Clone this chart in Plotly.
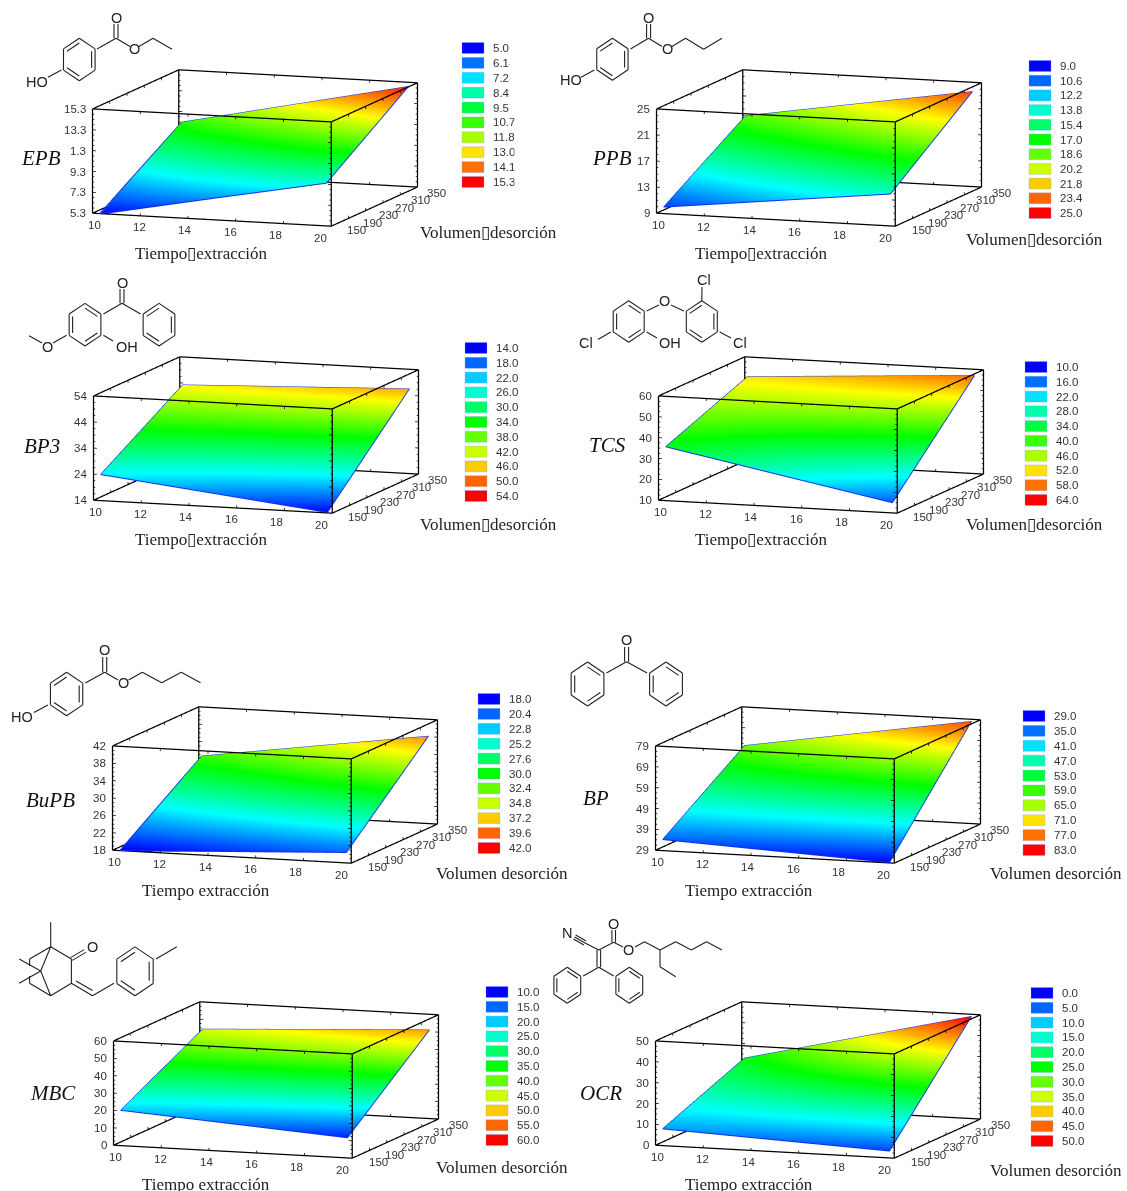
import math
import plotly.graph_objects as go

W, H = 1127, 1191
names = ["EPB", "PPB", "BP3", "TCS", "BuPB", "BP", "MBC", "OCR"]

# ---- data -----------------------------------------------------------------
x_edges = [10.3, 19.8]
y_edges = [150, 340]
x_ticks = [10, 12, 14, 16, 18, 20]
y_ticks = [150, 190, 230, 270, 310, 350]

z_EPB = [[5.2, 9.4], [10.5, 15.1]]
z_PPB = [[10.0, 13.9], [18.3, 23.9]]
z_BP3 = [[24.0, 14.2], [44.1, 47.3]]
z_TCS = [[35.8, 14.9], [51.6, 58.0]]
z_BuPB = [[17.8, 20.4], [31.2, 38.6]]
z_BP = [[34.3, 29.2], [61.5, 79.0]]
z_MBC = [[20.3, 11.6], [45.6, 52.2]]
z_OCR = [[8.0, 3.3], [24.1, 50.0]]
surfaces = [z_EPB, z_PPB, z_BP3, z_TCS, z_BuPB, z_BP, z_MBC, z_OCR]

color_EPB = [[5.0, 8.0], [10.5, 15.0]]
colors = [color_EPB, z_PPB, z_BP3, z_TCS, z_BuPB, z_BP, z_MBC, z_OCR]

ztick_EPB = ["5.3", "7.3", "9.3", "1.3", "13.3", "15.3"]
ztick_PPB = ["9", "13", "17", "21", "25"]
ztick_BP3 = ["14", "24", "34", "44", "54"]
ztick_TCS = ["10", "20", "30", "40", "50", "60"]
ztick_BuPB = ["18", "22", "26", "30", "34", "38", "42"]
ztick_BP = ["29", "39", "49", "59", "69", "79"]
ztick_MBC = ["0", "10", "20", "30", "40", "50", "60"]
ztick_OCR = ["0", "10", "20", "30", "40", "50"]
zticktext = [ztick_EPB, ztick_PPB, ztick_BP3, ztick_TCS, ztick_BuPB, ztick_BP, ztick_MBC, ztick_OCR]
zvals_EPB = [5.3, 7.3, 9.3, 11.3, 13.3, 15.3]
ztickvals = [zvals_EPB, [9, 13, 17, 21, 25], [14, 24, 34, 44, 54], [10, 20, 30, 40, 50, 60],
             [18, 22, 26, 30, 34, 38, 42], [29, 39, 49, 59, 69, 79],
             [0, 10, 20, 30, 40, 50, 60], [0, 10, 20, 30, 40, 50]]

leg_EPB = ["5.0", "6.14", "7.28", "8.42", "9.57", "10.71", "11.85", "13.0", "14.14", "15.3"]
leg_PPB = ["9.0", "10.6", "12.2", "13.8", "15.4", "17.0", "18.6", "20.2", "21.8", "23.4", "25.0"]
leg_BP3 = ["14.0", "18.0", "22.0", "26.0", "30.0", "34.0", "38.0", "42.0", "46.0", "50.0", "54.0"]
leg_TCS = ["10.0", "16.0", "22.0", "28.0", "34.0", "40.0", "46.0", "52.0", "58.0", "64.0"]
leg_BuPB = ["18.0", "20.4", "22.8", "25.2", "27.6", "30.0", "32.4", "34.8", "37.2", "39.6", "42.0"]
leg_BP = ["29.0", "35.0", "41.0", "47.0", "53.0", "59.0", "65.0", "71.0", "77.0", "83.0"]
leg_MBC = ["10.0", "15.0", "20.0", "25.0", "30.0", "35.0", "40.0", "45.0", "50.0", "55.0", "60.0"]
leg_OCR = ["0.0", "5.0", "10.0", "15.0", "20.0", "25.0", "30.0", "35.0", "40.0", "45.0", "50.0"]
legends = [leg_EPB, leg_PPB, leg_BP3, leg_TCS, leg_BuPB, leg_BP, leg_MBC, leg_OCR]

# ---- layout (pixels) -------------------------------------------------------
# bottom-left corner of the box, bottom-front corner, bottom-right-back corner
box_BL = [(92, 212), (656, 212), (93, 499), (658, 499), (112, 849), (654, 849), (113, 1144), (655, 1144)]
box_FB = [(330, 225), (896, 225), (331, 513), (896, 513), (351, 862), (893, 862), (352, 1157), (894, 1157)]
box_RB = [(417, 188), (982, 188), (418, 475), (983, 475), (438, 825), (981, 825), (439, 1120), (981, 1120)]
BOX_H = 104

sw_left = [462, 1029, 465, 1025, 478, 1023, 486, 1031]
sw_top = [48, 66, 348, 367, 699, 716, 992, 993]
sw_bottom = [182, 213, 496, 500, 848, 850, 1140, 1141]
SW_W, SW_H = 22, 11

name_pos = [(41, 158), (612, 158), (42, 446), (607, 445), (50, 800), (596, 798), (53, 1093), (601, 1093)]
xt_pos = [(201, 254), (761, 254), (201, 539), (761, 539), (206, 890), (749, 890), (206, 1184), (749, 1184)]
yt_pos = [(488, 232), (1034, 240), (488, 524), (1034, 524), (502, 873), (1056, 873), (502, 1167), (1056, 1170)]
xt_text = ["Tiempo\u25afextracción"] * 4 + ["Tiempo extracción"] * 4
yt_text = ["Volumen\u25afdesorción"] * 4 + ["Volumen desorción"] * 4

SCENE_W, SCENE_H = 440, 220
SCALE = 2.31
ASPECT = dict(x=1.0 * SCALE, y=1.044 * SCALE, z=0.418 * SCALE)
EYE_DIR = (0.323, -0.933, 0.157)
EYE_NORM = 4.0
RANGE_PAD = 0.003   # keeps the box edges just inside the scene's clip bounds
TICK_FONT = dict(size=11.5, color="#333", family="Liberation Sans")

rainbow = [[0, "rgb(0,0,255)"], [0.25, "rgb(0,255,255)"], [0.5, "rgb(0,255,0)"],
           [0.75, "rgb(255,255,0)"], [1, "rgb(255,0,0)"]]


def rainbow_at(c):
    stops = [(0, 0, 255), (0, 255, 255), (0, 255, 0), (255, 255, 0), (255, 0, 0)]
    p = min(c * 4, 3.9999)
    i = int(p)
    t = p - i
    a, b = stops[i], stops[i + 1]
    return "rgb(%d,%d,%d)" % tuple(round(a[k] + (b[k] - a[k]) * t) for k in range(3))


def padded(lo, hi):
    d = (hi - lo) * RANGE_PAD
    return [lo - d, hi + d]


# ---- molecule drawing helpers ----------------------------------------------
def hexv(cx, cy, r):
    return [(cx + 0.86 * r * math.sin(math.radians(60 * i)), cy - r * math.cos(math.radians(60 * i))) for i in range(6)]


def ring(cx, cy, r, inner):
    v = hexv(cx, cy, r)
    segs = [(v[i], v[(i + 1) % 6]) for i in range(6)]
    for i in inner:
        a, b = v[i], v[(i + 1) % 6]
        f = 0.78
        a2 = (cx + (a[0] - cx) * f, cy + (a[1] - cy) * f)
        b2 = (cx + (b[0] - cx) * f, cy + (b[1] - cy) * f)
        segs.append((a2, b2))
    return segs


def chain(*pts):
    return [(pts[i], pts[i + 1]) for i in range(len(pts) - 1)]


def dbl(a, b, off=2.0):
    dx, dy = b[0] - a[0], b[1] - a[1]
    n = math.hypot(dx, dy)
    ox, oy = -dy / n * off, dx / n * off
    return [((a[0] + ox, a[1] + oy), (b[0] + ox, b[1] + oy)), ((a[0] - ox, a[1] - oy), (b[0] - ox, b[1] - oy))]


SET_A = [5, 1, 3]
SET_B = [0, 2, 4]

mol_EPB = (ring(79.3, 59.5, 21.2, SET_A) + chain((97, 49), (116, 38.3), (130, 46.5))
           + dbl((116, 38.3), (116, 24)) + chain((139, 46.5), (153, 38.3), (172, 49.3))
           + chain((61.4, 70), (48, 77.3)))
atoms_EPB = [("O", 116, 18), ("O", 134.6, 49.5), ("HO", 37, 82)]

mol_PPB = (ring(612.4, 59.3, 21, SET_A) + chain((630.5, 49), (648.6, 38.3), (662, 46.5))
           + dbl((648.6, 38.3), (648.6, 24)) + chain((672, 46.5), (685.5, 38.3), (703.6, 49.3), (722, 38.3))
           + chain((594.4, 70), (581, 77.3)))
atoms_PPB = [("O", 648.6, 18), ("O", 667.4, 49.5), ("HO", 571, 80)]

mol_BP3 = (ring(85, 324.7, 21.3, SET_B) + ring(159, 324.7, 21.3, SET_A)
           + chain((103.4, 314), (122, 303.3), (140.6, 314)) + dbl((122, 303.3), (122, 289))
           + chain((103.4, 335.3), (113, 341)) + chain((66.6, 335.3), (53, 343)) + chain((42, 343), (29, 335.7)))
atoms_BP3 = [("O", 122, 282.5), ("OH", 127, 347), ("O", 47.5, 346.7)]

mol_TCS = (ring(628.7, 321.5, 20.8, SET_B) + ring(701.8, 321.5, 20.8, SET_A)
           + chain((646.6, 311), (659, 305)) + chain((671, 305), (683.9, 311))
           + chain((610.8, 332), (598, 339.5)) + chain((646.6, 332), (657, 338))
           + chain((701.8, 300.7), (702, 287)) + chain((719.7, 332), (731, 338)))
atoms_TCS = [("O", 664.9, 301), ("Cl", 586.4, 343.3), ("OH", 670, 343.3), ("Cl", 703.6, 280), ("Cl", 739.7, 343.3)]

mol_BuPB = (ring(66.6, 694, 21.7, SET_A) + chain((85.3, 683), (104.7, 672.3), (118, 680))
            + dbl((104.7, 672.3), (104.7, 657))
            + chain((128.5, 680), (142.4, 672.3), (161.7, 682.7), (181.3, 672.3), (200.5, 682.7))
            + chain((47.9, 705), (34, 712.5)))
atoms_BuPB = [("O", 104.7, 650), ("O", 123.2, 682.7), ("HO", 22, 716.7)]

mol_BP = (ring(587.5, 684, 22, SET_B) + ring(666, 684, 22, SET_B)
          + chain((606.4, 673), (626.6, 661.7), (647.1, 673)) + dbl((626.6, 661.7), (626.6, 647)))
atoms_BP = [("O", 626.6, 640)]

mol_MBC = (ring(135, 971.3, 24.4, SET_A) + chain((156, 959), (176.8, 946.7))
           + chain((50.7, 922.3), (50.7, 946.7), (71.4, 959), (71.4, 983.3), (50.7, 995.7), (40.7, 971), (50.7, 946.7))
           + chain((50.7, 946.7), (29.6, 959), (29.6, 966)) + chain((29.6, 976), (29.6, 983.3), (50.7, 995.7))
           + chain((19.2, 959), (40.7, 971), (19.2, 983.3))
           + dbl((71.4, 959), (85, 951), 1.6)
           + chain((71.4, 983.3), (92.5, 995.7), (114, 983.3)) + chain((76, 981), (92.5, 990.5)))
atoms_MBC = [("O", 92.5, 947.3)]

mol_OCR = (ring(567.3, 985.3, 18, SET_B) + ring(629.3, 985.3, 18, SET_B)
           + chain((598.8, 950), (613.7, 942.3), (623, 947)) + chain((635, 947), (644.5, 941.7), (660, 950), (675.7, 941.7),
                                                                   (691.3, 950), (706.5, 941.7), (722, 950))
           + chain((660, 950), (660, 966.7), (675.7, 976.7))
           + dbl((613.7, 942.3), (613.7, 930), 1.8) + dbl((598.8, 950), (598.8, 967.3), 1.8)
           + chain((598.8, 967.3), (583.2, 976)) + chain((598.8, 967.3), (613.7, 976))
           + chain((598.8, 950), (585, 943)) + dbl((585, 943), (574.5, 937), 2.2) + chain((585, 943), (574.5, 937)))
atoms_OCR = [("O", 613.7, 924.3), ("O", 628.9, 950), ("N", 567.3, 933.3)]

molecules = [mol_EPB, mol_PPB, mol_BP3, mol_TCS, mol_BuPB, mol_BP, mol_MBC, mol_OCR]
atom_labels = [atoms_EPB, atoms_PPB, atoms_BP3, atoms_TCS, atoms_BuPB, atoms_BP, atoms_MBC, atoms_OCR]


def px(x):
    return x / W


def py(y):
    return 1 - y / H


def note(x, y, text, size, color="#222", family="Liberation Sans", xanchor="center", **extra):
    d = dict(x=px(x), y=py(y), xref="paper", yref="paper", text=text, showarrow=False,
             xanchor=xanchor, yanchor="middle", align="left", borderpad=0,
             font=dict(size=size, color=color, family=family))
    d.update(extra)
    return d


def edge_trace(segs, width, sid):
    ex, ey, ez = [], [], []
    for a, b in segs:
        ex += [a[0], b[0], None]
        ey += [a[1], b[1], None]
        ez += [a[2], b[2], None]
    return go.Scatter3d(x=ex, y=ey, z=ez, mode="lines", line=dict(color="black", width=width),
                        hoverinfo="skip", scene=sid, showlegend=False)


fig = go.Figure()
annotations, shapes = [], []
layout_scenes = {}

for i, name in enumerate(names):
    sid = "scene" if i == 0 else "scene%d" % (i + 1)
    zt = ztickvals[i]
    zmin, zmax = zt[0], zt[-1]
    lab = legends[i]
    cmin, cmax = float(lab[0]), float(lab[-1])
    Z = surfaces[i]
    Zshown = [[max(v, zmin) for v in row] for row in Z]

    fig.add_trace(go.Surface(
        x=x_edges, y=y_edges, z=Z, surfacecolor=colors[i], cmin=cmin, cmax=cmax,
        colorscale=rainbow, showscale=False, hoverinfo="skip", scene=sid,
        lighting=dict(ambient=1, diffuse=0, specular=0, roughness=1, fresnel=0),
        contours=dict(x=dict(highlight=False), y=dict(highlight=False), z=dict(highlight=False)),
    ))
    # blue outline of the surface
    fig.add_trace(go.Scatter3d(
        x=[x_edges[0], x_edges[1], x_edges[1], x_edges[0], x_edges[0]],
        y=[y_edges[0], y_edges[0], y_edges[1], y_edges[1], y_edges[0]],
        z=[Zshown[0][0], Zshown[0][1], Zshown[1][1], Zshown[1][0], Zshown[0][0]],
        mode="lines", line=dict(color="#1030e8", width=2), hoverinfo="skip", scene=sid, showlegend=False))

    # box edges
    x0, x1, y0, y1 = x_ticks[0], x_ticks[-1], y_ticks[0], y_ticks[-1]
    segs = [((x0, y, z), (x1, y, z)) for y in (y0, y1) for z in (zmin, zmax)]
    segs += [((x, y0, z), (x, y1, z)) for x in (x0, x1) for z in (zmin, zmax)]
    segs += [((x, y, zmin), (x, y, zmax)) for x in (x0, x1) for y in (y0, y1)]
    fig.add_trace(edge_trace(segs, 2.5, sid))

    # small tick stubs on the vertical edges and along x / y edges
    stubs = []
    dzspan = zmax - zmin
    nz = (len(zt) - 1) * 4
    for k in range(nz + 1):
        zv = zmin + dzspan * k / nz
        ln = 0.14 if k % 4 == 0 else 0.07
        for xe, ye, s in [(x0, y0, 1), (x1, y0, -1), (x1, y1, -1), (x0, y1, 1)]:
            stubs.append(((xe, ye, zv), (xe + s * ln, ye, zv)))
    for xv in x_ticks:
        for ze, s in [(zmin, 1), (zmax, -1)]:
            for ye in [y0, y1]:
                stubs.append(((xv, ye, ze), (xv, ye, ze + s * dzspan * 0.025)))
    for yv in y_ticks:
        for ze, s in [(zmin, 1), (zmax, -1)]:
            for xe in [x0, x1]:
                stubs.append(((xe, yv, ze), (xe, yv, ze + s * dzspan * 0.025)))
    fig.add_trace(edge_trace(stubs, 1.5, sid))

    # tick labels placed on the axis edges
    scene_notes = []
    for v in x_ticks:
        t = (v - x0) / (x1 - x0)
        scene_notes.append(dict(x=v, y=y0, z=zmin, text=str(v), showarrow=False, font=TICK_FONT,
                                xanchor="center", yanchor="middle", xshift=2 - 12 * t, yshift=-11.5))
    for v in y_ticks:
        t = (v - y0) / (y1 - y0)
        scene_notes.append(dict(x=x1, y=v, z=zmin, text=str(v), showarrow=False, font=TICK_FONT,
                                xanchor="center", yanchor="middle", xshift=26 - 6 * t, yshift=-4 - 2 * t))
    for v, s in zip(zt, zticktext[i]):
        scene_notes.append(dict(x=x0, y=y0, z=v, text=s, showarrow=False, font=TICK_FONT,
                                xanchor="right", yanchor="middle", xshift=-4.5))

    # scene placement
    BL, FB, RB = box_BL[i], box_FB[i], box_RB[i]
    cx = (BL[0] + RB[0]) / 2
    cy = BL[1] + (FB[1] - BL[1]) / 2 - (FB[1] - RB[1]) / 2 - BOX_H / 2
    axis_common = dict(showbackground=False, showgrid=False, zeroline=False, showline=False,
                       showspikes=False, ticks="", title=dict(text=""), showticklabels=False)
    layout_scenes[sid] = dict(
        domain=dict(x=[px(cx - SCENE_W / 2), px(cx + SCENE_W / 2)],
                    y=[py(cy + SCENE_H / 2), py(cy - SCENE_H / 2)]),
        aspectmode="manual", aspectratio=ASPECT,
        bgcolor="rgba(0,0,0,0)",
        annotations=scene_notes,
        camera=dict(projection=dict(type="orthographic"),
                    up=dict(x=0, y=0, z=1), center=dict(x=0, y=0, z=0),
                    eye=dict(x=EYE_DIR[0] * EYE_NORM, y=EYE_DIR[1] * EYE_NORM, z=EYE_DIR[2] * EYE_NORM)),
        xaxis=dict(axis_common, range=padded(x0, x1)),
        yaxis=dict(axis_common, range=padded(y0, y1)),
        zaxis=dict(axis_common, range=padded(zmin, zmax)),
    )

    # legend
    n = len(lab)
    step = (sw_bottom[i] - sw_top[i]) / (n - 1)
    for k, t in enumerate(lab):
        yc = sw_top[i] + k * step
        shapes.append(dict(type="rect", xref="paper", yref="paper",
                           x0=px(sw_left[i]), x1=px(sw_left[i] + SW_W),
                           y0=py(yc + SW_H / 2), y1=py(yc - SW_H / 2),
                           fillcolor=rainbow_at(k / (n - 1)), line=dict(width=0.5, color="rgba(120,160,255,0.6)")))
        lx = sw_left[i] + SW_W + 7.5
        annotations.append(note(lx, yc, t, 11.5, "#333", xanchor="left"))
        if name == "EPB":
            # the reference crops these labels on their right side
            cut = lx + (17 if float(t) < 10 else 22)
            annotations.append(note(cut, yc, "&nbsp;", 11.5, "#333", xanchor="left",
                                    bgcolor="white", width=12, height=13))

    # labels
    annotations.append(note(name_pos[i][0], name_pos[i][1], "<i>%s</i>" % name, 21, "#111", "Liberation Serif"))
    annotations.append(note(xt_pos[i][0], xt_pos[i][1], xt_text[i], 17, "#222", "Liberation Serif"))
    annotations.append(note(yt_pos[i][0], yt_pos[i][1], yt_text[i], 17, "#222", "Liberation Serif"))

    # molecule
    path = " ".join("M%.5f,%.5f L%.5f,%.5f" % (px(a[0]), py(a[1]), px(b[0]), py(b[1])) for a, b in molecules[i])
    shapes.append(dict(type="path", xref="paper", yref="paper", path=path, line=dict(color="#222", width=1.1)))
    for t, ax, ay in atom_labels[i]:
        annotations.append(note(ax, ay, t, 14.5, "#222"))

fig.update_layout(width=W, height=H, margin=dict(l=0, r=0, t=0, b=0), paper_bgcolor="white",
                  showlegend=False, annotations=annotations, shapes=shapes, **layout_scenes)

fig.write_html("out.html", config=dict(displayModeBar=False),
               post_script="document.body.style.margin='0';document.body.style.overflow='hidden';")
